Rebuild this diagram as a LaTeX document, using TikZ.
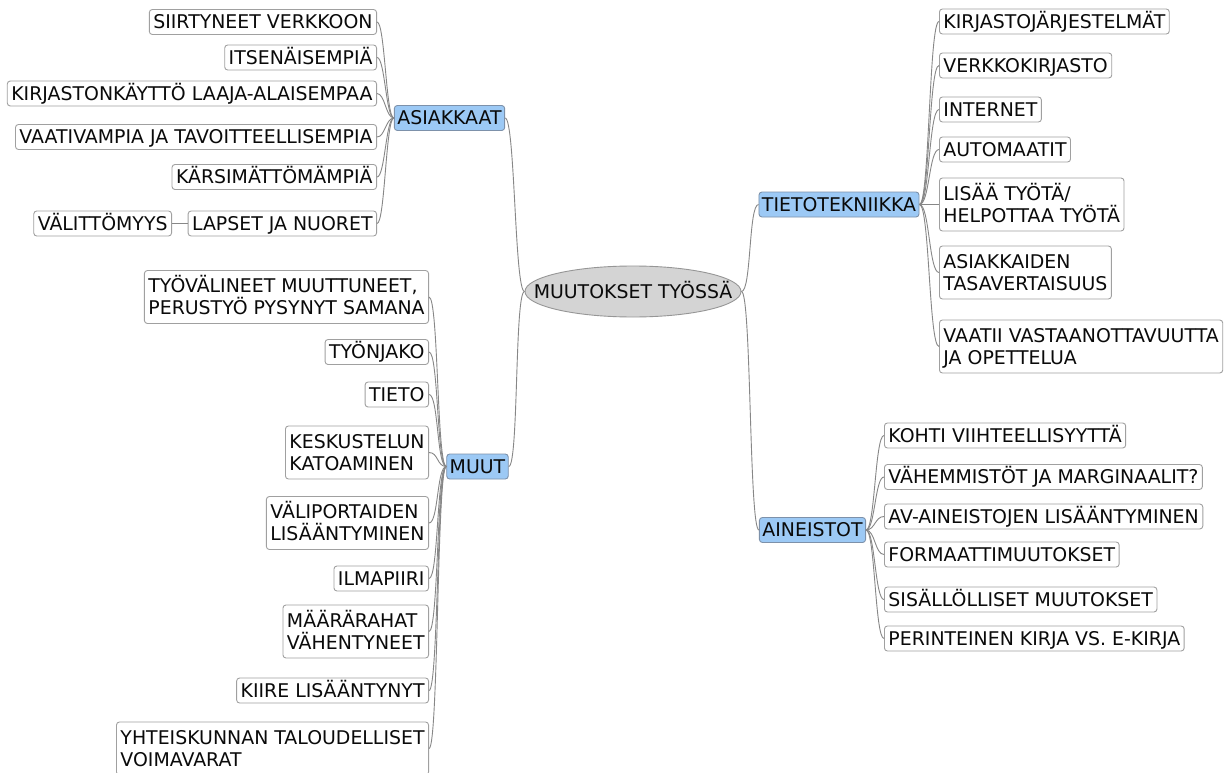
\documentclass[tikz,border=0pt]{standalone}
\usepackage{fontspec}
\setmainfont{DejaVu Sans}
\usetikzlibrary{shapes.geometric}
\definecolor{blu}{RGB}{156,201,245}
\definecolor{bluline}{RGB}{125,145,170}
\definecolor{boxline}{RGB}{160,160,160}
\definecolor{connline}{RGB}{135,135,135}
\definecolor{ellfill}{RGB}{212,212,212}
\definecolor{ellline}{RGB}{150,150,150}
\definecolor{txt}{RGB}{10,10,10}
\newcommand\twol[2]{\vbox{\offinterlineskip\hbox{\rule{0pt}{13.8pt}\smash{#1}}\vskip8.2pt\hbox{\rule{0pt}{13.8pt}\smash{#2}}}}
\tikzset{
  basefont/.style={font=\fontsize{18.9}{22}\selectfont, text=txt},
  leaf/.style={basefont, draw=boxline, line width=0.9pt, rounded corners=3pt, fill=white,
    inner xsep=4pt, inner ysep=5.6pt, text height=13.8pt, text depth=0pt},
  leaftwo/.style={basefont, draw=boxline, line width=0.9pt, rounded corners=3pt, fill=white,
    inner xsep=4pt, inner ysep=8.6pt},
  branch/.style={basefont, draw=bluline, line width=0.9pt, rounded corners=3pt, fill=blu,
    inner xsep=3pt, inner ysep=5.6pt, text height=13.8pt, text depth=0pt},
  rootnode/.style={basefont, ellipse, draw=ellline, line width=0.9pt, fill=ellfill,
    minimum width=216pt, minimum height=51pt, inner sep=0pt, text height=13.8pt, text depth=0pt},
  conn/.style={draw=connline, line width=0.9pt}
}
\begin{document}
\begin{tikzpicture}[x=1pt,y=-1pt]
\useasboundingbox (0,0) rectangle (1226,773);
\fill[white] (0,0) rectangle (1226,773);

% root
\node[rootnode] (root) at (633,291.5) {\makebox[0pt]{MUUTOKSET TYÖSSÄ}};

% branches
\node[branch] (asi) at (449.5,118) {ASIAKKAAT};
\node[branch] (tie) at (839,204.5) {TIETOTEKNIIKKA};
\node[branch] (ain) at (812.5,530) {AINEISTOT};
\node[branch] (muu) at (477.5,466.5) {MUUT};

% ASIAKKAAT leaves
\node[leaf, anchor=east] (a1) at (377,22) {SIIRTYNEET VERKKOON};
\node[leaf, anchor=east] (a2) at (377,57.5) {ITSENÄISEMPIÄ};
\node[leaf, anchor=east] (a3) at (377,93.5) {KIRJASTONKÄYTTÖ LAAJA-ALAISEMPAA};
\node[leaf, anchor=east] (a4) at (377,137) {VAATIVAMPIA JA TAVOITTEELLISEMPIA};
\node[leaf, anchor=east] (a5) at (377,177) {KÄRSIMÄTTÖMÄMPIÄ};
\node[leaf, anchor=east] (a6) at (377,223.5) {LAPSET JA NUORET};
\node[leaf, anchor=east] (a7) at (172,223.5) {VÄLITTÖMYYS};

% TIETOTEKNIIKKA leaves
\node[leaf, anchor=west] (t1) at (939,21.5) {KIRJASTOJÄRJESTELMÄT};
\node[leaf, anchor=west] (t2) at (939,65.5) {VERKKOKIRJASTO};
\node[leaf, anchor=west] (t3) at (939,109.5) {INTERNET};
\node[leaf, anchor=west] (t4) at (939,149.5) {AUTOMAATIT};
\node[leaftwo, anchor=west] (t5) at (939,204.5) {\twol{LISÄÄ TYÖTÄ/}{HELPOTTAA TYÖTÄ}};
\node[leaftwo, anchor=west] (t6) at (939,272.5) {\twol{ASIAKKAIDEN}{TASAVERTAISUUS}};
\node[leaftwo, anchor=west] (t7) at (939,346.5) {\twol{VAATII VASTAANOTTAVUUTTA}{JA OPETTELUA}};

% AINEISTOT leaves
\node[leaf, anchor=west] (n1) at (884,435.5) {KOHTI VIIHTEELLISYYTTÄ};
\node[leaf, anchor=west] (n2) at (884,477) {VÄHEMMISTÖT JA MARGINAALIT?};
\node[leaf, anchor=west] (n3) at (884,516.5) {AV-AINEISTOJEN LISÄÄNTYMINEN};
\node[leaf, anchor=west] (n4) at (884,554.5) {FORMAATTIMUUTOKSET};
\node[leaf, anchor=west] (n5) at (884,599.5) {SISÄLLÖLLISET MUUTOKSET};
\node[leaf, anchor=west] (n6) at (884,638.5) {PERINTEINEN KIRJA VS. E-KIRJA};

% MUUT leaves
\node[leaftwo, anchor=east] (m1) at (429,297) {\twol{TYÖVÄLINEET MUUTTUNEET,}{PERUSTYÖ PYSYNYT SAMANA}};
\node[leaf, anchor=east] (m2) at (429,352) {TYÖNJAKO};
\node[leaf, anchor=east] (m3) at (429,394.5) {TIETO};
\node[leaftwo, anchor=east] (m4) at (429,452.5) {\twol{KESKUSTELUN}{KATOAMINEN}};
\node[leaftwo, anchor=east] (m5) at (429,523) {\twol{VÄLIPORTAIDEN}{LISÄÄNTYMINEN}};
\node[leaf, anchor=east] (m6) at (429,578.5) {ILMAPIIRI};
\node[leaftwo, anchor=east] (m7) at (429,631.5) {\twol{MÄÄRÄRAHAT}{VÄHENTYNEET}};
\node[leaf, anchor=east] (m8) at (429,690.5) {KIIRE LISÄÄNTYNYT};
\node[leaftwo, anchor=east] (m9) at (429,748.5) {\twol{YHTEISKUNNAN TALOUDELLISET}{VOIMAVARAT}};

% root connectors
\draw[conn] (root.west) .. controls +(-10,0) and +(10,0) .. (asi.east);
\draw[conn] (root.west) .. controls +(-10,0) and +(10,0) .. (muu.east);
\draw[conn] (root.east) .. controls +(10,0) and +(-10,0) .. (tie.west);
\draw[conn] (root.east) .. controls +(10,0) and +(-10,0) .. (ain.west);

% ASIAKKAAT connectors
\foreach \c in {a1,a2,a3,a4,a5,a6}
  \draw[conn] (asi.west) .. controls +(-8,0) and +(8,0) .. (\c.east);
\draw[conn] (a6.west) -- (a7.east);

% TIETOTEKNIIKKA connectors
\foreach \c in {t1,t2,t3,t4,t5,t6,t7}
  \draw[conn] (tie.east) .. controls +(10,0) and +(-10,0) .. (\c.west);

% AINEISTOT connectors
\foreach \c in {n1,n2,n3,n4,n5,n6}
  \draw[conn] (ain.east) .. controls +(9,0) and +(-9,0) .. (\c.west);

% MUUT connectors
\foreach \c in {m1,m2,m3,m4,m5,m6,m7,m8,m9}
  \draw[conn] (muu.west) .. controls +(-9.5,0) and +(9.5,0) .. (\c.east);
\end{tikzpicture}
\end{document}
